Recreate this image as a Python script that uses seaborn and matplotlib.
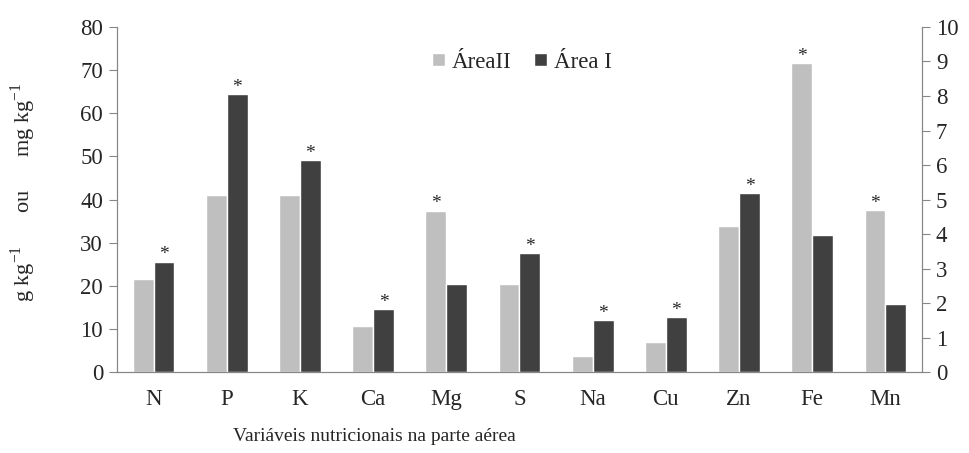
import pandas as pd
import seaborn as sns
import matplotlib.pyplot as plt

# Nutrient levels in shoots (left axis scale)
nutrients = ["N", "P", "K", "Ca", "Mg", "S", "Na", "Cu", "Zn", "Fe", "Mn"]
area_ii = [21.6, 41.0, 41.0, 10.7, 37.4, 20.3, 3.6, 6.9, 33.9, 71.7, 37.6]
area_i = [25.6, 64.4, 49.1, 14.5, 20.3, 27.6, 12.0, 12.7, 41.5, 31.7, 15.8]
series = ["ÁreaII", "Área I"]

df = pd.DataFrame({
    "Nutriente": nutrients * 2,
    "Valor": area_ii + area_i,
    "Area": [series[0]] * len(nutrients) + [series[1]] * len(nutrients),
})

sns.set_style("white")
plt.rcParams["font.family"] = ["Liberation Serif", "DejaVu Serif"]
plt.rcParams["mathtext.fontset"] = "custom"
plt.rcParams["mathtext.rm"] = "Liberation Serif"

fig, ax = plt.subplots(figsize=(9.7, 4.53), dpi=100)
fig.subplots_adjust(left=0.1206, right=0.9505, top=0.9404, bottom=0.1788)

palette = {"ÁreaII": "#bfbfbf", "Área I": "#404040"}
sns.barplot(data=df, x="Nutriente", y="Valor", hue="Area", hue_order=series,
            palette=palette, width=0.57, saturation=1, ax=ax)

# asterisk over the larger bar of each pair
for container in ax.containers:
    for bar in container:
        h = bar.get_height()
        idx = int(round(bar.get_x() + bar.get_width()))
        if h >= max(area_ii[idx], area_i[idx]):
            ax.text(bar.get_x() + bar.get_width() / 2, h - 0.4, "*",
                    ha="center", va="bottom", fontsize=14)

ax.set_xlim(-0.5, len(nutrients) - 0.5)
ax.set_ylim(0, 80)
ax.set_yticks(range(0, 81, 10))
ax.set_xticks([i - 0.5 for i in range(len(nutrients) + 1)], minor=True)
ax.tick_params(axis="x", which="major", length=0, pad=12, labelsize=16.5)
ax.tick_params(axis="x", which="minor", length=6, color="#868686", direction="out")
ax.tick_params(axis="y", length=6, color="#868686", direction="out", labelsize=16.5, pad=4)
for side in ["left", "bottom", "right"]:
    ax.spines[side].set_color("#868686")
ax.spines["top"].set_visible(False)

ax.set_xlabel("Variáveis nutricionais na parte aérea", fontsize=14)
ax.xaxis.set_label_coords(0.32, -0.162)
ax.set_ylabel("g kg$^{-1}$      ou      mg kg$^{-1}$", fontsize=16)
ax.yaxis.set_label_coords(-0.098, 0.52)

ax2 = ax.twinx()
ax2.set_ylim(0, 10)
ax2.set_yticks(range(0, 11))
ax2.tick_params(axis="y", length=6, color="#868686", direction="out", labelsize=16.5, pad=4)
for side in ["left", "bottom", "right"]:
    ax2.spines[side].set_color("#868686")
ax2.spines["top"].set_visible(False)

ax.legend(loc="center left", bbox_to_anchor=(0.377, 0.898), ncol=2, frameon=False,
          fontsize=16.5, handlelength=0.55, handleheight=0.55, handletextpad=0.3,
          columnspacing=1.0, borderpad=0)

plt.savefig("out.png", dpi=100)
